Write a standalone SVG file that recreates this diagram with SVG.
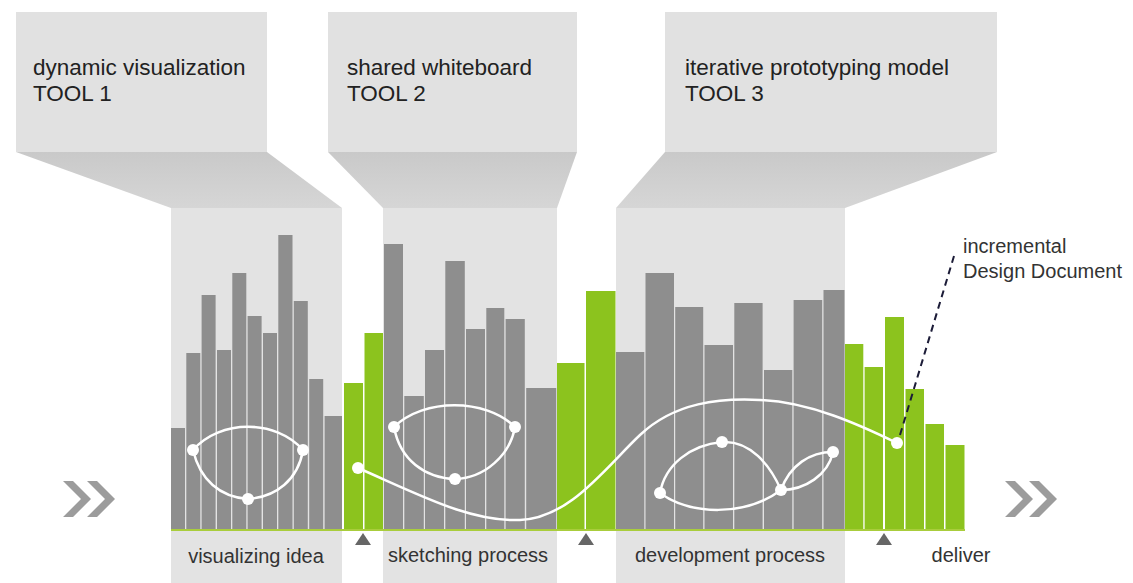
<svg xmlns="http://www.w3.org/2000/svg" width="1133" height="583" viewBox="0 0 1133 583">
<defs>
<linearGradient id="trap" x1="0" y1="0" x2="0" y2="1">
<stop offset="0" stop-color="#c9c9c9"/>
<stop offset="1" stop-color="#d6d6d6"/>
</linearGradient>
<style>
.panel{fill:#e1e1e1}
.trap{fill:url(#trap)}
.col{fill:#e3e3e3}
.g{fill:#8e8e8e}
.gr{fill:#8cc31e}
.t1{font-family:"Liberation Sans",Arial,sans-serif;font-size:22.5px;fill:#222}
.t2{font-family:"Liberation Sans",Arial,sans-serif;font-size:20px;fill:#333}
.curve{fill:none;stroke:#fff;stroke-width:2.5}
.node{fill:#fff}
.tri{fill:#666}
.chev{fill:#9c9c9c}
</style>
</defs>
<rect width="1133" height="583" fill="#fff"/>

<g id="tool1">
<rect class="panel" x="16" y="12" width="251" height="140"/>
<polygon class="trap" points="16,152 267,152 342,208 171,208"/>
<rect class="col" x="171" y="208" width="171" height="375"/>
<text class="t1" x="33" y="75">dynamic visualization</text>
<text class="t1" x="33" y="101" font-size="21">TOOL 1</text>
</g>
<g id="tool2">
<rect class="panel" x="328" y="12" width="249" height="140"/>
<polygon class="trap" points="328,152 577,152 557,208 383,208"/>
<rect class="col" x="383" y="208" width="174" height="375"/>
<text class="t1" x="347" y="75">shared whiteboard</text>
<text class="t1" x="347" y="101" font-size="21">TOOL 2</text>
</g>
<g id="tool3">
<rect class="panel" x="665" y="12" width="332" height="140"/>
<polygon class="trap" points="665,152 997,152 845,208 616,208"/>
<rect class="col" x="616" y="208" width="229" height="375"/>
<text class="t1" x="685" y="75">iterative prototyping model</text>
<text class="t1" x="685" y="101" font-size="21">TOOL 3</text>
</g>

<g id="bars">
<rect class="g" x="171" y="428" width="14" height="102"/>
<rect class="g" x="186.3" y="353" width="14" height="177"/>
<rect class="g" x="201.6" y="295" width="14" height="235"/>
<rect class="g" x="217" y="350" width="14" height="180"/>
<rect class="g" x="232.3" y="273" width="14" height="257"/>
<rect class="g" x="247.6" y="316" width="14" height="214"/>
<rect class="g" x="263" y="333" width="14" height="197"/>
<rect class="g" x="278.3" y="235" width="14.2" height="295"/>
<rect class="g" x="293.8" y="301" width="14" height="229"/>
<rect class="g" x="309.2" y="379" width="14" height="151"/>
<rect class="g" x="324.6" y="416" width="17.4" height="114"/>

<rect class="gr" x="344" y="383" width="19" height="147"/>
<rect class="gr" x="364.5" y="333" width="18.5" height="197"/>

<rect class="g" x="384" y="244" width="19" height="286"/>
<rect class="g" x="404.3" y="396" width="19.5" height="134"/>
<rect class="g" x="425" y="350" width="19" height="180"/>
<rect class="g" x="445.3" y="261" width="19.5" height="269"/>
<rect class="g" x="466" y="329" width="19" height="201"/>
<rect class="g" x="486.3" y="308" width="18" height="222"/>
<rect class="g" x="505.6" y="319" width="19.2" height="211"/>
<rect class="g" x="526.2" y="388" width="30" height="142"/>

<rect class="gr" x="557" y="363" width="27.5" height="167"/>
<rect class="gr" x="586" y="291" width="29.5" height="239"/>

<rect class="g" x="616" y="352" width="28.3" height="178"/>
<rect class="g" x="645.5" y="273" width="28.5" height="257"/>
<rect class="g" x="675.2" y="307" width="28" height="223"/>
<rect class="g" x="704.5" y="345" width="28.5" height="185"/>
<rect class="g" x="734.3" y="303" width="28.3" height="227"/>
<rect class="g" x="764" y="370" width="28.3" height="160"/>
<rect class="g" x="793.6" y="300" width="28.6" height="230"/>
<rect class="g" x="823.5" y="290" width="21" height="240"/>

<rect class="gr" x="845" y="344" width="18.3" height="186"/>
<rect class="gr" x="864.6" y="367" width="18.4" height="163"/>
<rect class="gr" x="885" y="317" width="19" height="213"/>
<rect class="gr" x="905.5" y="389" width="18.5" height="141"/>
<rect class="gr" x="925.5" y="424" width="18.5" height="106"/>
<rect class="gr" x="945.5" y="445" width="19" height="85"/>

<rect x="171" y="529" width="794" height="2" fill="#a9cd3c"/>
</g>

<g id="markers">
<polygon class="tri" points="363,533 371,545 355,545"/>
<polygon class="tri" points="586,533 594,545 578,545"/>
<polygon class="tri" points="884,533 892,545 876,545"/>
<polygon class="chev" points="63,481 73,481 91,499 73,517 63,517 81,499"/>
<polygon class="chev" points="87,481 97,481 115,499 97,517 87,517 105,499"/>
<polygon class="chev" points="1005,481 1015,481 1033,499 1015,517 1005,517 1023,499"/>
<polygon class="chev" points="1029,481 1039,481 1057,499 1039,517 1029,517 1047,499"/>
</g>

<g id="connectors">
<path class="curve" d="M193,450 C220,419 276,419 303,450"/>
<path class="curve" d="M193,450 C200,480 220,497 248,499 C276,497 298,480 303,450"/>
<path class="curve" d="M394,427 C424,398 485,398 515,427"/>
<path class="curve" d="M394,427 C400,460 425,478 455,479 C485,478 510,455 515,427"/>
<path class="curve" d="M358,468 C420,495 470,522 520,520 C570,518 605,468 640,435 C675,402 720,398 760,400 C810,402 860,425 897,443"/>
<path class="curve" d="M660,493 C665,465 690,445 722,442 C750,440 770,465 781,490"/>
<path class="curve" d="M660,493 C690,515 745,517 781,490"/>
<path class="curve" d="M781,490 C790,465 810,452 833,452"/>
<path class="curve" d="M781,490 C805,490 828,475 833,452"/>
<line x1="900" y1="435" x2="954" y2="256" stroke="#1c1c38" stroke-width="2" stroke-dasharray="7,5"/>
</g>

<g id="nodes">
<circle class="node" cx="193" cy="450" r="6"/>
<circle class="node" cx="303" cy="450" r="6"/>
<circle class="node" cx="248" cy="499" r="6"/>
<circle class="node" cx="394" cy="427" r="6"/>
<circle class="node" cx="515" cy="427" r="6"/>
<circle class="node" cx="455" cy="479" r="6"/>
<circle class="node" cx="358" cy="468" r="6"/>
<circle class="node" cx="897" cy="443" r="6"/>
<circle class="node" cx="660" cy="493" r="6"/>
<circle class="node" cx="722" cy="442" r="6"/>
<circle class="node" cx="781" cy="490" r="6"/>
<circle class="node" cx="833" cy="452" r="6"/>
</g>

<g id="labels">
<text class="t2" x="256" y="563" text-anchor="middle">visualizing idea</text>
<text class="t2" x="468" y="562" text-anchor="middle">sketching process</text>
<text class="t2" x="730" y="562" text-anchor="middle">development process</text>
<text class="t2" x="961" y="562" text-anchor="middle">deliver</text>
<text class="t2" x="963" y="253">incremental</text>
<text class="t2" x="963" y="278">Design Document</text>
</g>
</svg>
